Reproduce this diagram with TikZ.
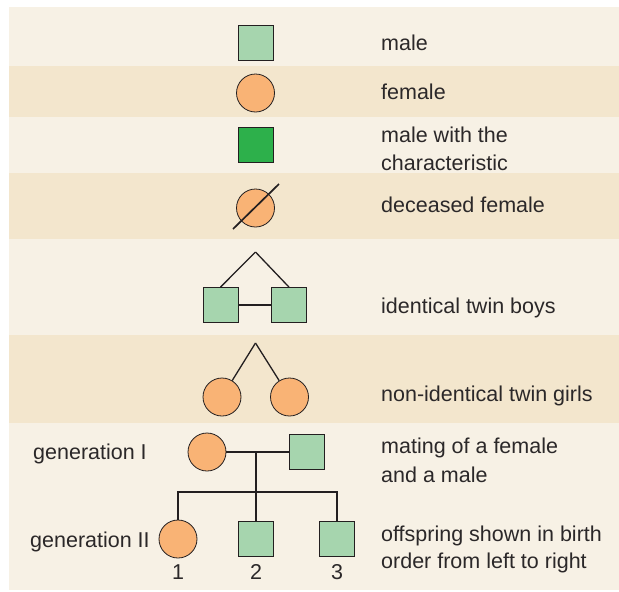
\documentclass[tikz,border=0pt]{standalone}
\usepackage{fontspec}
\setmainfont{Liberation Sans}
\usetikzlibrary{positioning}

\definecolor{bandlight}{HTML}{F7F1E5}
\definecolor{banddark}{HTML}{F3E6CD}
\definecolor{malegreen}{HTML}{A6D5AE}
\definecolor{affgreen}{HTML}{2DB04B}
\definecolor{femorange}{HTML}{F9B375}
\definecolor{inkline}{HTML}{231F20}
\definecolor{inktext}{HTML}{2B2829}

\tikzset{
  male/.style={draw=inkline, fill=malegreen, rectangle, minimum size=35pt, inner sep=0pt, line width=0.8pt},
  female/.style={draw=inkline, fill=femorange, circle, minimum size=38pt, inner sep=0pt, line width=0.8pt},
  link/.style={draw=inkline, line width=1.3pt},
  legtext/.style={anchor=base west, inner sep=0pt, text=inktext, font=\fontsize{21.5}{26}\selectfont}
}

\begin{document}
\begin{tikzpicture}[x=1pt, y=-1pt]

  \useasboundingbox (0,0) rectangle (619,592);

  % Background bands
  \fill[bandlight] (8.5,7) rectangle (619,590);
  \fill[banddark] (8.5,66) rectangle (619,117);
  \fill[banddark] (8.5,173) rectangle (619,239);
  \fill[banddark] (8.5,335) rectangle (619,423);

  % Single symbols
  \node[male] (m1) at (255.5,42.5) {};
  \node[female] (f1) at (255.5,93) {};
  \node[male, fill=affgreen] (ma) at (255.5,144.5) {};
  \node[female] (fd) at (255.5,208) {};
  \coordinate (slA) at (233,229);
  \coordinate (slB) at (279,184);
  \draw[link, line width=1.7pt] (slA) -- (slB);

  % Identical twins
  \coordinate (itop) at (255.5,252);
  \node[male] (tb1) at (220.5,305) {};
  \node[male] (tb2) at (289,305) {};
  \draw[link] (itop) -- (tb1.north);
  \draw[link] (itop) -- (tb2.north);
  \draw[link] (tb1) -- (tb2);

  % Non-identical twins
  \coordinate (ntop) at (255.5,343);
  \node[female] (tg1) at (222,397) {};
  \node[female] (tg2) at (289.5,397) {};
  \draw[link] (ntop) -- (tg1);
  \draw[link] (ntop) -- (tg2);

  % Generation I
  \node[female] (p1) at (207,452) {};
  \node[male] (p2) at (307,452) {};
  \coordinate (mate) at (256,452);
  \coordinate (sib) at (256,492);
  \draw[link] (p1) -- (p2);

  % Generation II
  \node[female] (c1) at (178,539) {};
  \node[male] (c2) at (256,539) {};
  \node[male] (c3) at (337,539) {};
  \draw[link] (mate) -- (c2.north);
  \draw[link] (c1.north) |- (sib) -| (c3.north);

  % Birth order
  \node[legtext, anchor=base] (n1) at (178,579) {1};
  \node[legtext, anchor=base] (n2) at (256,579) {2};
  \node[legtext, anchor=base] (n3) at (337,579) {3};

  % Generation labels
  \node[legtext] (g1) at (33,459) {generation I};
  \node[legtext] (g2) at (30,547) {generation II};

  % Descriptions
  \node[legtext] (d1) at (381,50) {male};
  \node[legtext] (d2) at (381,99) {female};
  \node[legtext] (d3a) at (381,142) {male with the};
  \node[legtext] (d3b) at (381,170) {characteristic};
  \node[legtext] (d4) at (381,212) {deceased female};
  \node[legtext] (d5) at (381,313) {identical twin boys};
  \node[legtext] (d6) at (381,401) {non-identical twin girls};
  \node[legtext] (d7a) at (381,453) {mating of a female};
  \node[legtext] (d7b) at (381,482) {and a male};
  \node[legtext] (d8a) at (381,541) {offspring shown in birth};
  \node[legtext] (d8b) at (381,568) {order from left to right};

\end{tikzpicture}
\end{document}
